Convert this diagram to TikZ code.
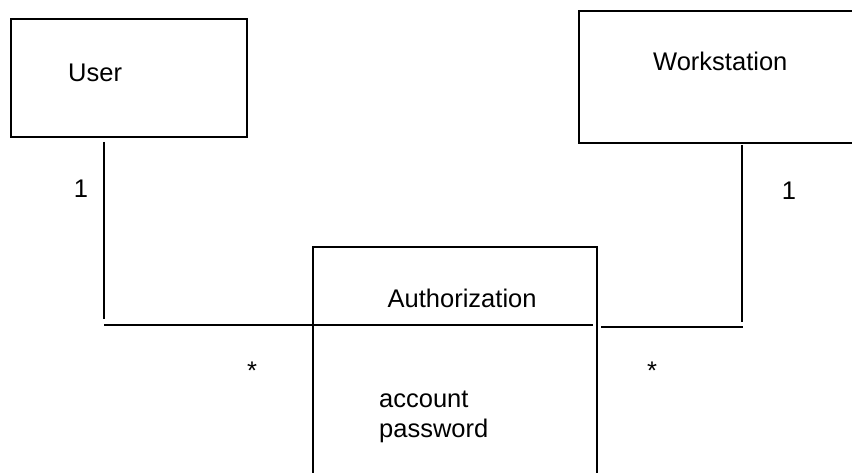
\documentclass[tikz,border=0pt]{standalone}
\usepackage{fontspec}
\setmainfont{Liberation Sans}
\begin{document}
\begin{tikzpicture}[x=1pt,y=-1pt,
  box/.style={draw, line width=1.5pt, rectangle, inner sep=0pt},
  lbl/.style={inner sep=0pt, anchor=base west, font=\fontsize{25.5}{30}\selectfont},
  mult/.style={inner sep=0pt, anchor=base, font=\fontsize{25.5}{30}\selectfont},
  conn/.style={line width=1.5pt}]
\useasboundingbox (0,0) rectangle (852,473);
\fill[white] (0,0) rectangle (852,473);
% classes
\node[box, minimum width=236pt, minimum height=118pt] (user) at (129,78) {};
\node[box, minimum width=321pt, minimum height=132pt] (ws) at (739.5,77) {};
\node[box, minimum width=284pt, minimum height=273pt] (auth) at (455,383.5) {};
% texts
\node[lbl] (usert) at (68,82) {User};
\node[lbl] (wst) at (653,71) {Workstation};
\node[lbl] (autht) at (387.5,307.5) {Authorization};
\node[lbl] (acc) at (379,407) {account};
\node[lbl] (pwd) at (379,437.5) {password};
\node[mult] (m1) at (81,198) {1};
\node[mult] (m2) at (789,200) {1};
\node[mult] (s1) at (252,379) {*};
\node[mult] (s2) at (652,379) {*};
% connector end points
\coordinate (ua) at (104,142);
\coordinate (ub) at (104,319);
\coordinate (ha) at (104,325);
\coordinate (hb) at (593,325);
\coordinate (wa) at (742,145);
\coordinate (wb) at (742,322);
\coordinate (ra) at (601,327);
\coordinate (rb) at (743,327);
\draw[conn] (ua) -- (ub);
\draw[conn] (ha) -- (hb);
\draw[conn] (wa) -- (wb);
\draw[conn] (ra) -- (rb);
\end{tikzpicture}
\end{document}
